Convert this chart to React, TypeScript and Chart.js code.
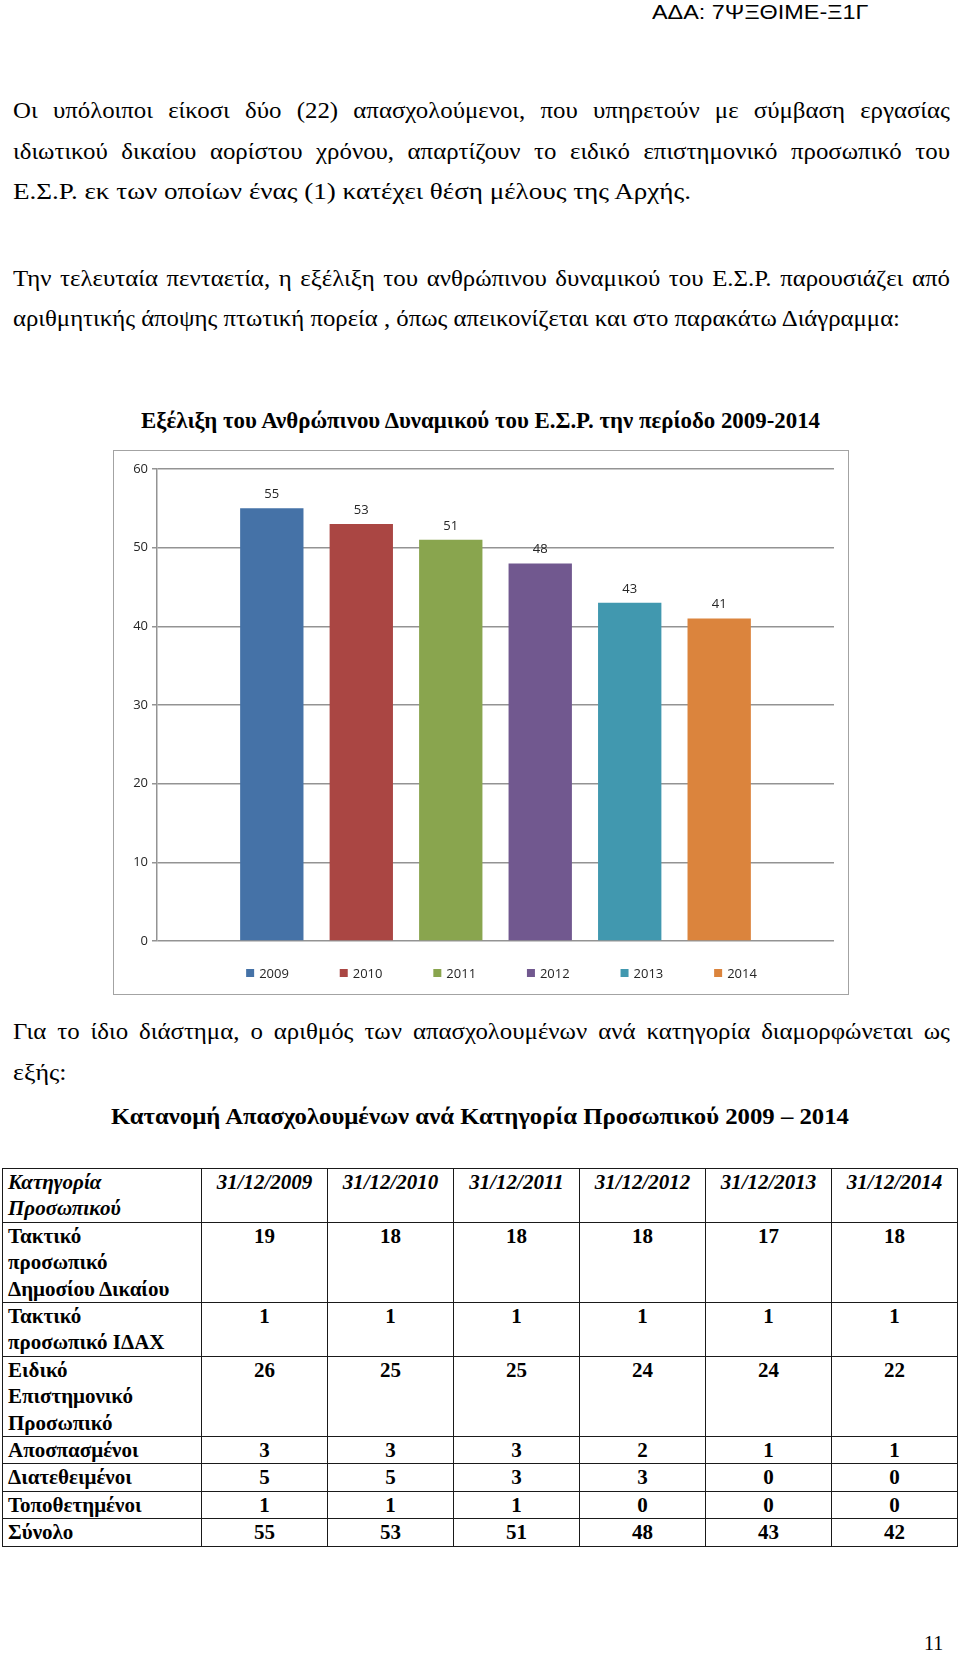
import React, { useEffect, useLayoutEffect, useRef } from 'react';
import { Chart, registerables } from 'chart.js';

Chart.register(...registerables);

// ---------- chart data ----------
const years = ['2009', '2010', '2011', '2012', '2013', '2014'];
const staffTotals = [55, 53, 51, 48, 43, 41];
const barColors = ['#4572A7', '#AA4643', '#89A54E', '#71588F', '#4198AF', '#DB843D'];
const yMin = 0;
const yMax = 60;
const yStep = 10;

// ---------- table data ----------
const tableDates = ['31/12/2009', '31/12/2010', '31/12/2011', '31/12/2012', '31/12/2013', '31/12/2014'];
const tableHeaderLines = ['Κατηγορία', 'Προσωπικού'];
const categoryLabels = [
  ['Τακτικό', 'προσωπικό', 'Δημοσίου Δικαίου'],
  ['Τακτικό', 'προσωπικό ΙΔΑΧ'],
  ['Ειδικό', 'Επιστημονικό', 'Προσωπικό'],
  ['Αποσπασμένοι'],
  ['Διατεθειμένοι'],
  ['Τοποθετημένοι'],
  ['Σύνολο'],
];
const regularPublic = [19, 18, 18, 18, 17, 18];
const regularIDAX = [1, 1, 1, 1, 1, 1];
const specialScientific = [26, 25, 25, 24, 24, 22];
const seconded = [3, 3, 3, 2, 1, 1];
const assigned = [5, 5, 3, 3, 0, 0];
const placed = [1, 1, 1, 0, 0, 0];
const tableTotals = [55, 53, 51, 48, 43, 42];
const tableRows = [regularPublic, regularIDAX, specialScientific, seconded, assigned, placed, tableTotals];

// ---------- page text ----------
const headerCode = 'ΑΔΑ: 7ΨΞΘΙΜΕ-Ξ1Γ';
const para1 = [
  'Οι υπόλοιποι είκοσι δύο (22) απασχολούμενοι, που υπηρετούν με σύμβαση εργασίας',
  'ιδιωτικού δικαίου αορίστου χρόνου, απαρτίζουν το ειδικό επιστημονικό προσωπικό του',
  'Ε.Σ.Ρ. εκ των οποίων ένας (1) κατέχει θέση μέλους της Αρχής.',
];
const para2 = [
  'Την τελευταία πενταετία, η εξέλιξη του ανθρώπινου δυναμικού του Ε.Σ.Ρ. παρουσιάζει από',
  'αριθμητικής άποψης πτωτική πορεία , όπως απεικονίζεται και στο παρακάτω Διάγραμμα:',
];
const chartTitle = 'Εξέλιξη του Ανθρώπινου Δυναμικού του Ε.Σ.Ρ. την περίοδο 2009-2014';
const para3 = [
  'Για το ίδιο διάστημα, ο αριθμός των απασχολουμένων ανά κατηγορία διαμορφώνεται ως',
  'εξής:',
];
const tableTitle = 'Κατανομή Απασχολουμένων ανά Κατηγορία Προσωπικού 2009 – 2014';
const pageNumber = '11';

const serif = "'Liberation Serif', 'Times New Roman', serif";
const chartFont = "'Open Sans', sans-serif";

// Justified line: words spread across the full width, glyphs slightly widened.
function JLine({ text, top, left, width, stretch = 1.035, style }: any) {
  const words = text.split(' ');
  return (
    <div
      style={{
        position: 'absolute',
        top,
        left,
        width: width / stretch,
        display: 'flex',
        justifyContent: 'space-between',
        whiteSpace: 'nowrap',
        transform: `scaleX(${stretch})`,
        transformOrigin: 'left top',
        ...style,
      }}
    >
      {words.map((w: string, i: number) => (
        <span key={i}>{w}</span>
      ))}
    </div>
  );
}

// A single line of text stretched horizontally to a target width.
function FitLine({ text, top, left, target, center, style }: any) {
  const ref = useRef<HTMLDivElement | null>(null);
  useLayoutEffect(() => {
    const el = ref.current;
    if (!el) return;
    el.style.transform = 'none';
    const w = el.getBoundingClientRect().width;
    if (w > 0) {
      const s = target / w;
      const x = center !== undefined ? center - target / 2 : left;
      el.style.left = x + 'px';
      el.style.transform = `scaleX(${s})`;
    }
  }, [text, target]);
  return (
    <div
      ref={ref}
      style={{
        position: 'absolute',
        top,
        left: left ?? 0,
        whiteSpace: 'nowrap',
        transformOrigin: 'left top',
        ...style,
      }}
    >
      {text}
    </div>
  );
}

const valueLabelPlugin = {
  id: 'valueLabels',
  afterDatasetsDraw(chart: any) {
    const ctx = chart.ctx;
    ctx.save();
    ctx.font = `13px ${chartFont}`;
    ctx.fillStyle = '#262626';
    ctx.textAlign = 'center';
    ctx.textBaseline = 'alphabetic';
    chart.data.datasets.forEach((ds: any, i: number) => {
      const meta = chart.getDatasetMeta(i);
      meta.data.forEach((bar: any, j: number) => {
        ctx.fillText(String(ds.data[j]), bar.x, bar.y - 10);
      });
    });
    ctx.restore();
  },
};

const bottomLegendPlugin = {
  id: 'bottomLegend',
  afterDraw(chart: any) {
    const ctx = chart.ctx;
    const area = chart.chartArea;
    ctx.save();
    ctx.font = `13px ${chartFont}`;
    ctx.textBaseline = 'middle';
    ctx.textAlign = 'left';
    const pitch = 93.6;
    const box = 8;
    const gap = 5;
    const items = chart.data.datasets.map((ds: any) => ({
      label: ds.label,
      color: ds.backgroundColor,
      w: ctx.measureText(ds.label).width,
    }));
    const total = (items.length - 1) * pitch + box + gap + items[items.length - 1].w;
    const cx = (area.left + area.right) / 2 + 6;
    let x = cx - total / 2;
    const y = area.bottom + 32;
    items.forEach((it: any) => {
      ctx.fillStyle = it.color;
      ctx.fillRect(x, y - box / 2, box, box);
      ctx.fillStyle = '#262626';
      ctx.fillText(it.label, x + box + gap, y + 1);
      x += pitch;
    });
    ctx.restore();
  },
};

function StaffChart() {
  const ref = useRef<HTMLCanvasElement | null>(null);
  useEffect(() => {
    if (!ref.current) return;
    const chart = new Chart(ref.current, {
      type: 'bar',
      data: {
        labels: [''],
        datasets: years.map((y, i) => ({
          label: y,
          data: [staffTotals[i]],
          backgroundColor: barColors[i],
          borderWidth: 0,
          categoryPercentage: 0.793,
          barPercentage: 0.708,
        })),
      },
      options: {
        animation: false,
        responsive: false,
        maintainAspectRatio: false,
        layout: { padding: { top: 18, right: 14, bottom: 53, left: 0 } },
        plugins: {
          legend: { display: false },
          tooltip: { enabled: false },
          title: { display: false },
        },
        scales: {
          x: { display: false },
          y: {
            min: yMin,
            max: yMax,
            ticks: {
              stepSize: yStep,
              font: { family: chartFont, size: 13 },
              color: '#262626',
              padding: 4,
            },
            grid: { color: '#939393', lineWidth: 1.5, tickLength: 5, drawTicks: true },
            border: { display: true, color: '#939393', width: 1.5 },
            afterFit: (s: any) => {
              s.width = 43;
            },
          },
        },
      } as any,
      plugins: [valueLabelPlugin, bottomLegendPlugin],
    });
    return () => chart.destroy();
  }, []);
  return (
    <canvas
      ref={ref}
      width={734}
      height={543}
      style={{ position: 'absolute', left: 114, top: 451, width: 734, height: 543 }}
    />
  );
}

const bodyStyle = { fontFamily: serif, fontSize: 24, lineHeight: '24px', color: '#000' };
const boldTitleStyle = { fontFamily: serif, fontSize: 23, lineHeight: '23px', fontWeight: 'bold', color: '#000' };

export default function App() {
  useEffect(() => {
    document.body.style.margin = '0';
    document.body.style.background = '#fff';
  }, []);

  const cellBase: any = {
    border: '1px solid #1a1a1a',
    padding: '0 5px',
    verticalAlign: 'top',
    lineHeight: '26.4px',
  };

  return (
    <div style={{ position: 'relative', width: 960, height: 1655, background: '#fff', overflow: 'hidden' }}>
      <div
        style={{
          position: 'absolute',
          left: 652,
          top: 2.4,
          fontFamily: "'Liberation Sans', Arial, sans-serif",
          fontSize: 20,
          lineHeight: '20px',
          whiteSpace: 'nowrap',
          transform: 'scaleX(1.17)',
          transformOrigin: 'left top',
          color: '#000',
        }}
      >
        {headerCode}
      </div>

      <JLine text={para1[0]} top={98.4} left={13} width={937} style={bodyStyle} />
      <JLine text={para1[1]} top={138.9} left={13} width={937} style={bodyStyle} />
      <FitLine text={para1[2]} top={179.4} left={13} target={678} style={bodyStyle} />

      <JLine text={para2[0]} top={265.9} left={13} width={937} style={bodyStyle} />
      <FitLine text={para2[1]} top={306.4} left={13} target={887} style={bodyStyle} />

      <FitLine text={chartTitle} top={408.7} center={480} target={679} style={boldTitleStyle} />

      <div
        style={{
          position: 'absolute',
          left: 113,
          top: 450,
          width: 736,
          height: 545,
          border: '1.5px solid #a3a3a3',
          boxSizing: 'border-box',
        }}
      />
      <StaffChart />

      <JLine text={para3[0]} top={1018.9} left={13} width={937} style={bodyStyle} />
      <FitLine text={para3[1]} top={1059.9} left={13} target={53.5} style={bodyStyle} />

      <FitLine text={tableTitle} top={1104.7} center={480} target={738} style={boldTitleStyle} />

      <table
        style={{
          position: 'absolute',
          left: 2,
          top: 1168,
          width: 956,
          borderCollapse: 'collapse',
          tableLayout: 'fixed',
          fontFamily: serif,
          fontSize: 21,
          fontWeight: 'bold',
          color: '#000',
        }}
      >
        <colgroup>
          <col style={{ width: 199 }} />
          {tableDates.map((d) => (
            <col key={d} style={{ width: 126 }} />
          ))}
        </colgroup>
        <tbody>
          <tr>
            <td style={{ ...cellBase, fontStyle: 'italic', textAlign: 'left' }}>
              {tableHeaderLines.map((l, i) => (
                <div key={i}>{l}</div>
              ))}
            </td>
            {tableDates.map((d) => (
              <td key={d} style={{ ...cellBase, fontStyle: 'italic', textAlign: 'center', padding: 0 }}>
                {d}
              </td>
            ))}
          </tr>
          {tableRows.map((row, r) => (
            <tr key={r}>
              <td style={{ ...cellBase, textAlign: 'left' }}>
                {categoryLabels[r].map((l, i) => (
                  <div key={i} style={{ whiteSpace: 'nowrap' }}>
                    {l}
                  </div>
                ))}
              </td>
              {row.map((v, c) => (
                <td key={c} style={{ ...cellBase, textAlign: 'center' }}>
                  {v}
                </td>
              ))}
            </tr>
          ))}
        </tbody>
      </table>

      <div
        style={{
          position: 'absolute',
          left: 924,
          top: 1633,
          fontFamily: serif,
          fontSize: 20,
          lineHeight: '20px',
          color: '#000',
        }}
      >
        {pageNumber}
      </div>
    </div>
  );
}
